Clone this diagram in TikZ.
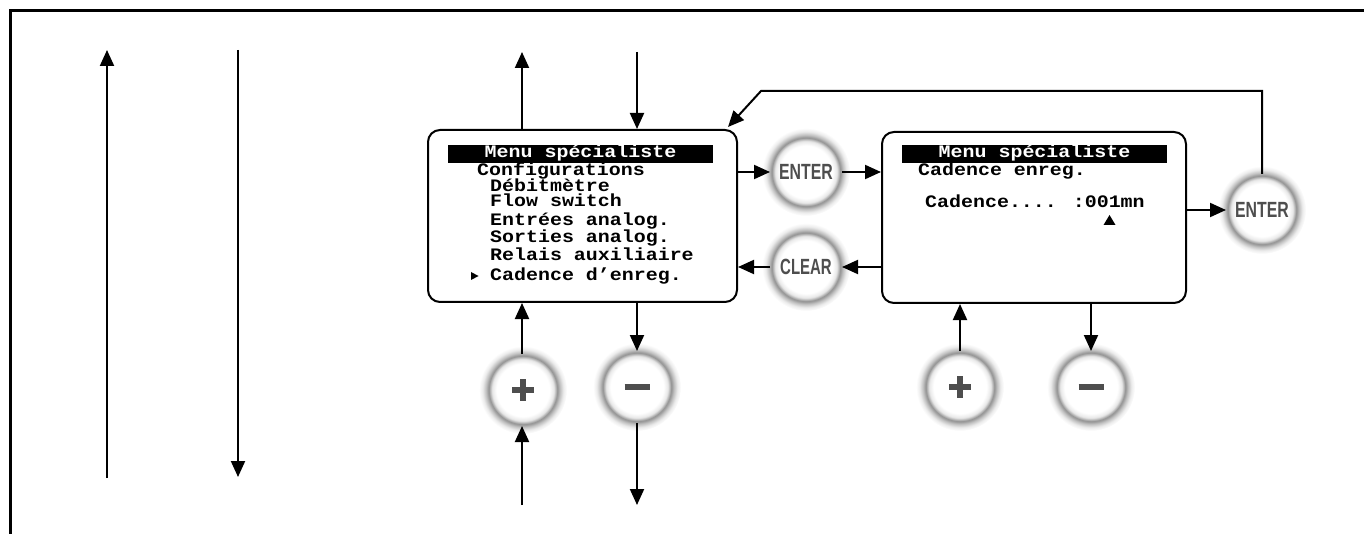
\documentclass[tikz,border=0pt]{standalone}
\usepackage{fontspec}
\usepackage{graphicx}
\newfontfamily\anzeigefont{Liberation Mono}[FakeStretch=1.14]
\newfontfamily\tastenfont{Liberation Sans}
\usetikzlibrary{arrows.meta}

\definecolor{tastengrau}{HTML}{4E4E4E}
\pgfdeclareradialshading{tastenglanz}{\pgfpoint{0bp}{0bp}}{color(0bp)=(white); color(15bp)=(white); color(17.5bp)=(gray!18); color(19.5bp)=(gray!85); color(21bp)=(gray!50); color(23bp)=(gray!15); color(25bp)=(white); color(50bp)=(white)}

\begin{document}
\begin{tikzpicture}[x=1pt, y=-1pt, >={Triangle[length=16pt,width=14pt]},
    anzeige/.style={draw, line width=2pt, rounded corners=12pt},
    balken/.style={fill=black, text=white, inner sep=0pt, text height=13pt, text depth=5pt,
      minimum width=265pt, font=\anzeigefont\bfseries\fontsize{17.5pt}{20pt}\selectfont},
    zeile/.style={anchor=base west, inner sep=0pt, font=\anzeigefont\bfseries\fontsize{17.5pt}{20pt}\selectfont},
    taste/.style={circle, minimum size=88pt, outer sep=-8pt, shade, shading=tastenglanz,
      text=tastengrau, font=\tastenfont\bfseries\fontsize{22pt}{24pt}\selectfont},
    zeichen/.style={line width=5.5pt, tastengrau},
    pfeil/.style={->, line width=2pt}]
    \useasboundingbox (0,0) rectangle (1364,534);

    % Rahmen
    \draw[line width=3pt] (10,534) -- (10,11) -- (1364,11);

    % Anzeigen
    \node[anzeige, minimum width=309pt, minimum height=172pt] (menu) at (582.5,216) {};
    \node[anzeige, minimum width=304pt, minimum height=171pt] (cadence) at (1034,217.5) {};

    \node[balken] (titelA) at (580.5,154) {Menu spécialiste};
    \node[balken] (titelB) at (1034.5,154) {Menu spécialiste};

    \foreach \txt/\xx/\yy [count=\i] in {Configurations/477/176, Débitmètre/490/192,
      Flow switch/490/207, Entrées analog./490/226, Sorties analog./490/243,
      Relais auxiliaire/490/261, Cadence d’enreg./490/281}
    \node[zeile] (zeileA\i) at (\xx,\yy) {\txt};
    \fill (471,272) -- (478.5,276) -- (471,280) -- cycle;

    \node[zeile] (zeileB1) at (918,176) {Cadence enreg.};
    \node[zeile] (zeileB2) at (925,208) {Cadence.... :001mn};
    \fill (1103.5,225) -- (1109.5,215) -- (1115.5,225) -- cycle;

    % Tasten
    \node[taste] (enterA) at (806,172) {\scalebox{0.72}[1]{ENTER}};
    \node[taste] (clearA) at (806,267) {\scalebox{0.68}[1]{CLEAR}};
    \node[taste] (enterB) at (1262,210) {\scalebox{0.72}[1]{ENTER}};
    \node[taste] (plusA) at (523,390) {};
    \node[taste] (minusA) at (637,387) {};
    \node[taste] (plusB) at (960,387) {};
    \node[taste] (minusB) at (1091,387) {};

    \foreach \t in {plusA,plusB}
    \draw[zeichen] (\t.center) ++(-11,0) -- ++(22,0) (\t.center) ++(0,-11) -- ++(0,22);
    \foreach \t in {minusA,minusB}
    \draw[zeichen] (\t.center) ++(-12.5,0) -- ++(25,0);

    % Pfeile
    \coordinate (linksS) at (107,478);
    \coordinate (linksE) at (107,50);
    \coordinate (rechtsS) at (238,50);
    \coordinate (rechtsE) at (238,477);
    \coordinate (obenauf) at (522,52);
    \coordinate (obenab) at (637,52);
    \coordinate (plusein) at (522,505);
    \coordinate (minusaus) at (637,505);
    \coordinate (knick) at (761,91);
    \coordinate (rueck) at (728,127);

    \draw[pfeil] (linksS) -- (linksE);
    \draw[pfeil] (rechtsS) -- (rechtsE);
    \draw[pfeil] (menu.north -| obenauf) -- (obenauf);
    \draw[pfeil] (obenab) -- (menu.north -| obenab);

    \draw[pfeil] (menu.east |- enterA) -- (enterA);
    \draw[pfeil] (enterA) -- (cadence.west |- enterA);
    \draw[pfeil] (cadence.west |- clearA) -- (clearA);
    \draw[pfeil] (clearA) -- (menu.east |- clearA);
    \draw[pfeil] (cadence.east |- enterB) -- (enterB);
    \draw[pfeil] (enterB.north) |- (knick) -- (rueck);

    \draw[pfeil] (plusA.north -| plusein) -- (menu.south -| plusein);
    \draw[pfeil] (plusein) -- (plusA.south -| plusein);
    \draw[pfeil] (menu.south -| minusA) -- (minusA.north);
    \draw[pfeil] (minusA.south) -- (minusaus);
    \draw[pfeil] (plusB.north) -- (cadence.south -| plusB);
    \draw[pfeil] (cadence.south -| minusB) -- (minusB.north);
\end{tikzpicture}
\end{document}
